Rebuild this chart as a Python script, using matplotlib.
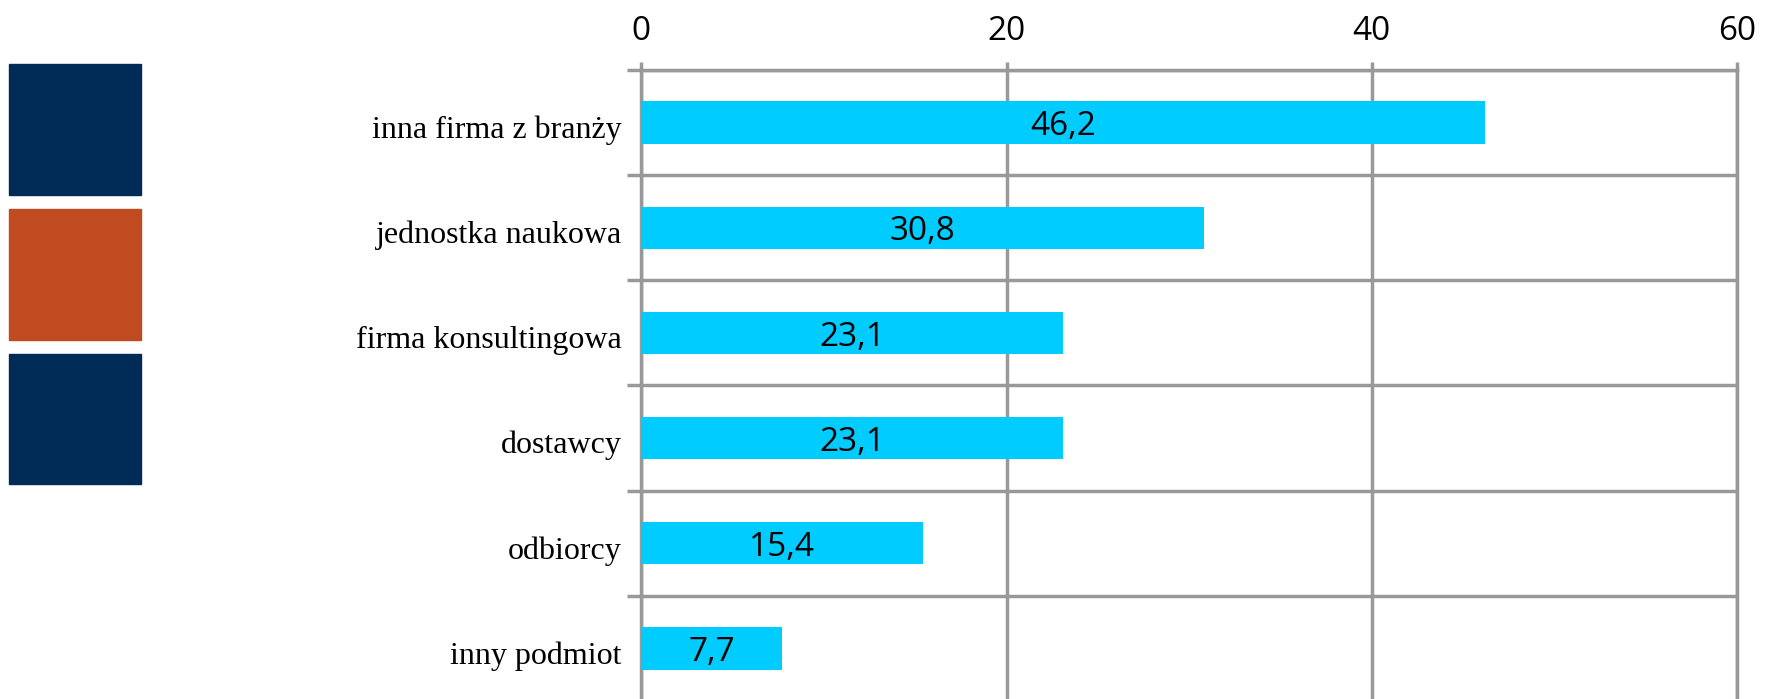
import numpy as np
import matplotlib
matplotlib.use("Agg")
import matplotlib.pyplot as plt
from matplotlib.patches import Rectangle
from matplotlib.transforms import ScaledTranslation

categories = ["inna firma z branży", "jednostka naukowa", "firma konsultingowa",
              "dostawcy", "odbiorcy", "inny podmiot"]
values = [46.2, 30.8, 23.1, 23.1, 15.4, 7.7]
x_ticks = [0, 20, 40, 60]

bar_color = "#00CCFF"
grid_color = "#999999"
square_colors = ["#002B56", "#C04B21", "#002B56"]

fig = plt.figure(figsize=(17.69, 6.99), dpi=100)

# decorative squares on the left
for i, c in enumerate(square_colors):
    top = 0.908 - i * 0.207
    fig.patches.append(Rectangle((0.005, top - 0.187), 0.0745, 0.187,
                                 transform=fig.transFigure, color=c, zorder=0))

ax = fig.add_axes([0.3625, -0.003, 0.6195, 0.903])
y = np.arange(len(categories))
ax.barh(y, values, height=0.4, color=bar_color, zorder=3)
for yi, v in zip(y, values):
    ax.text(v / 2, yi + 0.04, f"{v:.1f}".replace(".", ","), ha="center", va="center",
            fontsize=24, family="Open Sans", color="black", zorder=4)

ax.set_xlim(0, 60)
ax.set_ylim(len(categories) - 0.5, -0.5)
ax.xaxis.tick_top()
ax.set_xticks(x_ticks)
ax.set_xticklabels([str(t) for t in x_ticks], fontsize=24, family="Open Sans")
ax.tick_params(axis="x", length=6, width=2.5, color=grid_color, pad=10)

ax.set_yticks(y)
ax.set_yticklabels(categories, fontsize=23, family="Liberation Serif")
ax.set_yticks(np.arange(-0.5, len(categories), 1), minor=True)
ax.tick_params(axis="y", which="major", length=0, pad=14)
ax.tick_params(axis="y", which="minor", length=10, width=2.5, color=grid_color)
shift = ScaledTranslation(0, -4 / 100, fig.dpi_scale_trans)
for lbl in ax.get_yticklabels():
    lbl.set_transform(lbl.get_transform() + shift)

ax.grid(axis="x", which="major", color=grid_color, linewidth=2.5, zorder=1)
ax.grid(axis="y", which="minor", color=grid_color, linewidth=2.5, zorder=1)
ax.set_axisbelow(True)
for side in ["left", "top", "right"]:
    ax.spines[side].set_color(grid_color)
    ax.spines[side].set_linewidth(2.5)
ax.spines["bottom"].set_visible(False)

plt.savefig("out.png", dpi=100)
plt.close()
